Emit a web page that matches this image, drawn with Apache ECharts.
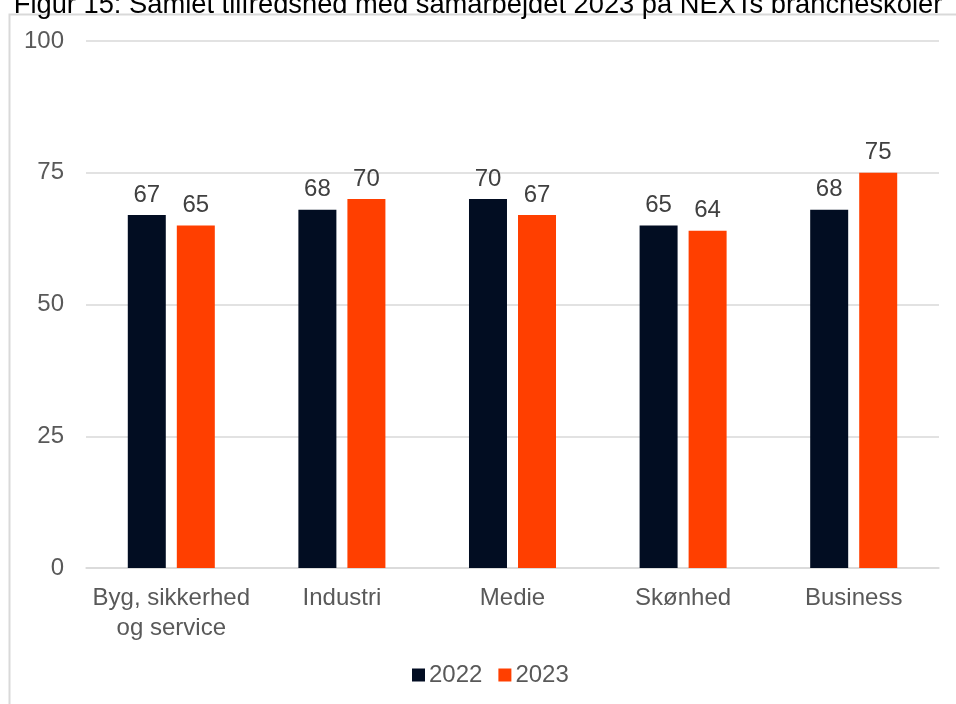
<!DOCTYPE html>
<html><head><meta charset="utf-8">
<script src="https://cdn.jsdelivr.net/npm/echarts@6/dist/echarts.min.js"></script>
<style>html,body{margin:0;padding:0;background:#fff}#c{width:956px;height:704px}</style>
</head><body><div id="c"></div>
<script>
const title = "Figur 15: Samlet tilfredshed med samarbejdet 2023 på NEXTs brancheskoler";
const categories = ["Byg, sikkerhed\nog service", "Industri", "Medie", "Skønhed", "Business"];
const seriesNames = ["2022", "2023"];
const values2022 = [67, 68, 70, 65, 68];
const values2023 = [65, 70, 67, 64, 75];
const yTicks = [0, 25, 50, 75, 100];

const FONT = "Liberation Sans, Arial, sans-serif";
const chart = echarts.init(document.getElementById('c'), null, {renderer: 'canvas'});
chart.setOption({
  animation: false,
  backgroundColor: '#fff',
  title: {
    text: title, left: 'center', top: -13,
    textStyle: {fontFamily: FONT, fontSize: 27.3, fontWeight: 'normal', color: '#000'}
  },
  graphic: [{
    type: 'rect', left: 7, top: 12, shape: {width: 960, height: 700},
    style: {fill: 'none', stroke: '#d9d9d9', lineWidth: 2}, silent: true, z: -1
  }],
  grid: {left: 86, right: 17, top: 41, bottom: 136, containLabel: false},
  legend: {
    data: seriesNames, bottom: 12, left: 407, itemWidth: 13, itemHeight: 13, itemGap: 16,
    icon: 'rect',
    textStyle: {fontFamily: FONT, fontSize: 24, color: '#595959', padding: [0,0,0,-1]}
  },
  xAxis: {
    type: 'category', data: categories,
    axisLine: {lineStyle: {color: '#d9d9d9', width: 1.5}},
    axisTick: {show: false},
    axisLabel: {fontFamily: FONT, fontSize: 24, color: '#595959', margin: 15, lineHeight: 30, interval: 0}
  },
  yAxis: {
    type: 'value', min: 0, max: 100, interval: 25,
    axisLine: {show: false}, axisTick: {show: false},
    splitLine: {lineStyle: {color: '#d9d9d9', width: 1.5}},
    axisLabel: {fontFamily: FONT, fontSize: 24, color: '#595959', margin: 22,
      formatter: v => yTicks.includes(v) ? String(v) : ''}
  },
  series: [
    {name: seriesNames[0], type: 'bar', data: values2022, barWidth: 38, barGap: '29%',
     itemStyle: {color: '#020d22'},
     label: {show: true, position: 'top', distance: 8, fontFamily: FONT, fontSize: 24, color: '#404040'}},
    {name: seriesNames[1], type: 'bar', data: values2023, barWidth: 38,
     itemStyle: {color: '#ff3f00'},
     label: {show: true, position: 'top', distance: 8, fontFamily: FONT, fontSize: 24, color: '#404040'}}
  ]
});
</script></body></html>
